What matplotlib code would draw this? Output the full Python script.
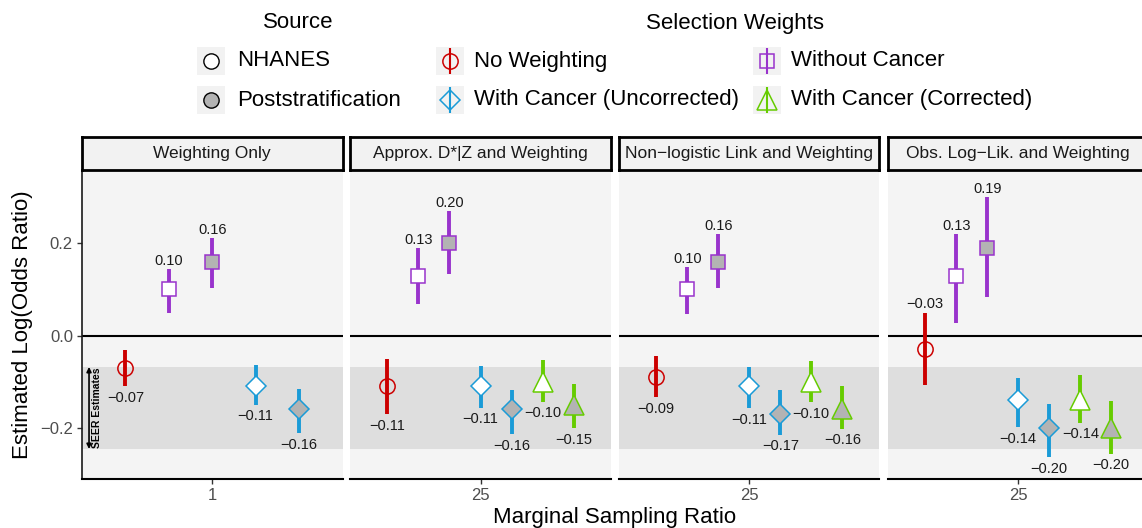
import matplotlib
matplotlib.use("Agg")
import matplotlib.pyplot as plt
from matplotlib.patches import Rectangle
import matplotlib.transforms as mtransforms

plt.rcParams['font.family'] = ['Liberation Sans', 'DejaVu Sans']

W, H = 1142, 528

# ---- data ----
panel_titles = ["Weighting Only", "Approx. D*|Z and Weighting",
                "Non\u2212logistic Link and Weighting", "Obs. Log\u2212Lik. and Weighting"]
ratio_labels = ["1", "25", "25", "25"]

groups_short = ["none", "wo_nh", "wo_ps", "wu_nh", "wu_ps"]
groups_full = ["none", "wo_nh", "wo_ps", "wu_nh", "wu_ps", "wc_nh", "wc_ps"]

est_weighting = [-0.07, 0.10, 0.16, -0.11, -0.16]
lo_weighting = [-0.110, 0.050, 0.104, -0.151, -0.212]
hi_weighting = [-0.032, 0.145, 0.212, -0.063, -0.115]

est_approx = [-0.11, 0.13, 0.20, -0.11, -0.16, -0.10, -0.15]
lo_approx = [-0.171, 0.069, 0.134, -0.156, -0.214, -0.143, -0.201]
hi_approx = [-0.050, 0.190, 0.270, -0.067, -0.117, -0.054, -0.106]

est_nonlogit = [-0.09, 0.10, 0.16, -0.11, -0.17, -0.10, -0.16]
lo_nonlogit = [-0.134, 0.047, 0.103, -0.158, -0.216, -0.145, -0.203]
hi_nonlogit = [-0.045, 0.149, 0.220, -0.069, -0.119, -0.056, -0.110]

est_obsll = [-0.03, 0.13, 0.19, -0.14, -0.20, -0.14, -0.20]
lo_obsll = [-0.108, 0.028, 0.084, -0.199, -0.264, -0.190, -0.257]
hi_obsll = [0.050, 0.220, 0.300, -0.093, -0.149, -0.086, -0.141]

seer_low, seer_high = -0.246, -0.068

panel_data = [
    (groups_short, est_weighting, lo_weighting, hi_weighting),
    (groups_full, est_approx, lo_approx, hi_approx),
    (groups_full, est_nonlogit, lo_nonlogit, hi_nonlogit),
    (groups_full, est_obsll, lo_obsll, hi_obsll),
]

weight_names = {"none": "No Weighting", "wo": "Without Cancer",
                "wu": "With Cancer (Uncorrected)", "wc": "With Cancer (Corrected)"}
weight_color = {"none": "#CC0000", "wo": "#9933CC", "wu": "#1A9BD7", "wc": "#66CC00"}
weight_marker = {"none": "o", "wo": "s", "wu": "D", "wc": "^"}
marker_size = {"o": 11, "s": 9.7, "D": 9.7, "^": 14.5}
source_fill = {"nh": "white", "ps": "#B3B3B3"}


def fig_box(x0, y0, x1, y1):
    # pixel box (top-left origin) -> figure fraction
    return [x0 / W, 1 - y1 / H, (x1 - x0) / W, (y1 - y0) / H]


def fmt(v):
    return f"{v:.2f}".replace("-", "\u2212")


fig = plt.figure(figsize=(W / 100, H / 100), dpi=100)

panel_x = [(82, 342.5), (350, 611), (619, 879.5), (888, 1148.5)]
ymin, ymax = -0.311, 0.359

for i, (x0, x1) in enumerate(panel_x):
    ax = fig.add_axes(fig_box(x0, 170, x1, 479))
    ax.set_facecolor("#F4F4F4")
    ax.set_xlim(-0.6, 0.6)
    ax.set_ylim(ymin, ymax)
    ax.axhspan(seer_low, seer_high, color="#DEDEDE", lw=0, zorder=0)
    ax.axhline(0, color="black", lw=1.5, zorder=1)

    groups, est, lo, hi = panel_data[i]
    n = len(groups)
    for j, g in enumerate(groups):
        x = (j - (n - 1) / 2) / n
        w = g.split("_")[0]
        col = weight_color[w]
        mk = weight_marker[w]
        if w == "none":
            fill = "none"
        else:
            fill = source_fill[g.split("_")[1]]
        ax.vlines(x, lo[j], hi[j], color=col, lw=2.8, zorder=2)
        ax.plot([x], [est[j]], marker=mk, ms=marker_size[mk], mfc=fill, mec=col,
                mew=1.1, zorder=3, ls="none")
        if hi[j] > 0:
            ax.annotate(fmt(est[j]), (x, hi[j]), xytext=(0, 3), textcoords="offset points",
                        ha="center", va="baseline", fontsize=10.5, color="#1A1A1A", zorder=4)
        else:
            ax.annotate(fmt(est[j]), (x, lo[j]), xytext=(0, -11), textcoords="offset points",
                        ha="center", va="baseline", fontsize=10.5, color="#1A1A1A", zorder=4)

    for s in ["top", "right"]:
        ax.spines[s].set_visible(False)
    ax.spines["bottom"].set_color("black")
    ax.spines["bottom"].set_linewidth(1.5)
    ax.set_xticks([0])
    ax.set_xticklabels([ratio_labels[i]], fontsize=12, color="#4D4D4D")
    ax.tick_params(axis="x", length=3.5, width=1, color="#333333", pad=3)
    if i == 0:
        ax.spines["left"].set_color("#1A1A1A")
        ax.spines["left"].set_linewidth(1.2)
        ax.set_yticks([-0.2, 0.0, 0.2])
        ax.set_yticklabels(["\u22120.2", "0.0", "0.2"], fontsize=12, color="#4D4D4D")
        ax.tick_params(axis="y", length=3.5, width=1, color="#333333", pad=3)
        # SEER range marker
        trans = mtransforms.blended_transform_factory(ax.transAxes, ax.transData)
        ax.annotate("", xy=(0.027, seer_low), xytext=(0.027, seer_high), xycoords=trans,
                    textcoords=trans,
                    arrowprops=dict(arrowstyle="<|-|>", lw=1.2, color="black",
                                    shrinkA=0, shrinkB=0, mutation_scale=7))
        ax.text(0.058, (seer_low + seer_high) / 2, "SEER Estimates", transform=trans,
                rotation=90, ha="center", va="center", fontsize=7.5, fontweight="bold")
    else:
        ax.spines["left"].set_visible(False)
        ax.set_yticks([])

    # facet strip
    st = fig.add_axes(fig_box(x0, 137, x1, 170))
    st.set_facecolor("#F2F2F2")
    st.set_xticks([])
    st.set_yticks([])
    for s in st.spines.values():
        s.set_color("black")
        s.set_linewidth(2)
    st.text(0.5, 0.5, panel_titles[i], transform=st.transAxes, ha="center", va="center",
            fontsize=12.5, color="#1A1A1A")

fig.text(615 / W, 1 - 517 / H, "Marginal Sampling Ratio", ha="center", va="center",
         fontsize=16)
fig.text(23 / W, 1 - 324.5 / H, "Estimated Log(Odds Ratio)", ha="center", va="center",
         rotation=90, fontsize=16)

# ---- legend ----
leg = fig.add_axes([0, 1 - 130 / H, 1, 130 / H])
leg.set_xlim(0, W)
leg.set_ylim(130, 0)
leg.axis("off")

leg.text(298, 23, "Source", ha="center", va="center", fontsize=16)
leg.text(735, 23, "Selection Weights", ha="center", va="center", fontsize=16)

rows_y = [61, 100]
source_labels = ["NHANES", "Poststratification"]
for r, (key, lab) in enumerate(zip(["nh", "ps"], source_labels)):
    yc = rows_y[r]
    leg.add_patch(Rectangle((211 - 14, yc - 14), 28, 28, fc="#F2F2F2", ec="none"))
    leg.plot([211], [yc], marker="o", ms=11, mfc=source_fill[key], mec="black", mew=1)
    leg.text(237, yc, lab, ha="left", va="center", fontsize=16)

weight_order = ["none", "wo", "wu", "wc"]
cols_x = [(449.5, 474), (767, 791)]
for k, w in enumerate(weight_order):
    xc, xt = cols_x[k % 2]
    yc = rows_y[k // 2]
    leg.add_patch(Rectangle((xc - 14, yc - 14), 28, 28, fc="#F2F2F2", ec="none"))
    leg.vlines(xc, yc - 13, yc + 13, color=weight_color[w], lw=1.5)
    mk = weight_marker[w]
    leg.plot([xc], [yc], marker=mk, ms=marker_size[mk], mfc="none",
             mec=weight_color[w], mew=1.1)
    leg.text(xt, yc, weight_names[w], ha="left", va="center", fontsize=16)

fig.savefig("out.png", dpi=100)
